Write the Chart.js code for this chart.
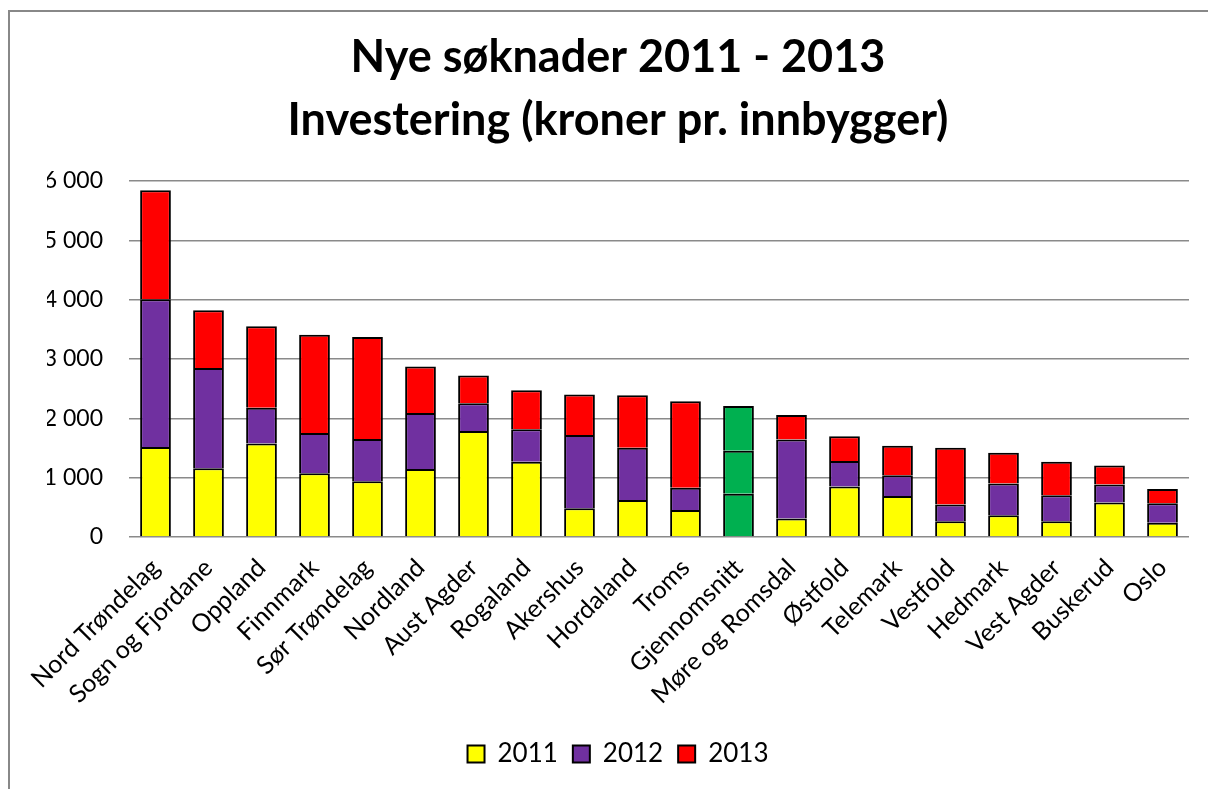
<!DOCTYPE html>
<html>
<head>
<meta charset="utf-8">
<script src="https://cdn.jsdelivr.net/npm/chart.js@4/dist/chart.umd.min.js"></script>
<style>
  html,body{margin:0;padding:0;background:#fff;overflow:hidden;width:1208px;height:789px;}
  #frame{position:absolute;left:8px;top:10px;width:1400px;height:1000px;border:2px solid #888;box-sizing:border-box;}
  #wrap{position:absolute;left:0;top:0;width:1208px;height:789px;}
</style>
</head>
<body>
<div id="frame"></div>
<div id="wrap"><canvas id="c" width="1208" height="789"></canvas></div>
<script>
// data (kroner pr. innbygger)
const categories = ["Nord Trøndelag","Sogn og Fjordane","Oppland","Finnmark","Sør Trøndelag","Nordland","Aust Agder","Rogaland","Akershus","Hordaland","Troms","Gjennomsnitt","Møre og Romsdal","Østfold","Telemark","Vestfold","Hedmark","Vest Agder","Buskerud","Oslo"];
const v2011 = [1515,1160,1577,1076,941,1144,1786,1268,485,625,456,727,310,851,693,265,366,265,580,242];
const v2012 = [2490,1690,603,676,710,946,468,546,1233,879,372,727,1335,428,349,281,535,439,305,327];
const v2013 = [1840,970,1370,1656,1718,783,467,659,682,885,1459,754,411,417,496,958,519,564,321,242];
const seriesNames = ["2011","2012","2013"];
const yTicks = [0,1000,2000,3000,4000,5000,6000];
const avgLabel = "Gjennomsnitt";

const FONT = "Lato, 'Open Sans', sans-serif";
const COLORS = ["#FFFF00","#7030A0","#FF0000"];
const AVG = "#00B050";

function fill(base){ return categories.map(c => c===avgLabel ? AVG : base); }
function fmt(v){ return String(v).replace(/\B(?=(\d{3})+(?!\d))/g," "); }

const datasets = [v2011,v2012,v2013].map((d,i)=>({
  label: seriesNames[i], data: d, backgroundColor: fill(COLORS[i]),
  borderColor:"#000", borderWidth:2, barPercentage:0.58, categoryPercentage:1
}));

new Chart(document.getElementById("c"),{
  type:"bar",
  data:{labels:categories, datasets},
  options:{
    responsive:false, animation:false, devicePixelRatio:1,
    layout:{padding:{left:47,right:19,top:0,bottom:12}},
    plugins:{
      title:{display:true, text:["Nye søknader 2011 - 2013","Investering (kroner pr. innbygger)"],
        color:"#000", font:{family:FONT, size:45, weight:"bold", lineHeight:1.4},
        padding:{top:26,bottom:29}},
      legend:{position:"bottom",
        labels:{color:"#000", font:{family:FONT,size:26}, boxWidth:17, boxHeight:17, padding:15}},
      tooltip:{enabled:false}
    },
    scales:{
      x:{stacked:true, grid:{display:false}, border:{display:false},
        ticks:{color:"#000", font:{family:FONT,size:25}, minRotation:45, maxRotation:45, autoSkip:false, padding:8},
        afterFit:s=>{ s.height=189; }},
      y:{stacked:true, min:0, max:6000,
        afterBuildTicks:s=>{ s.ticks = yTicks.map(v=>({value:v})); },
        grid:{color:"#8a8a8a", lineWidth:1.5, drawTicks:false}, border:{display:false},
        ticks:{color:"#000", font:{family:FONT,size:23}, padding:26, callback:v=>fmt(v)},
        afterFit:s=>{ s.width=82; }}
    }
  }
});
</script>
</body>
</html>
